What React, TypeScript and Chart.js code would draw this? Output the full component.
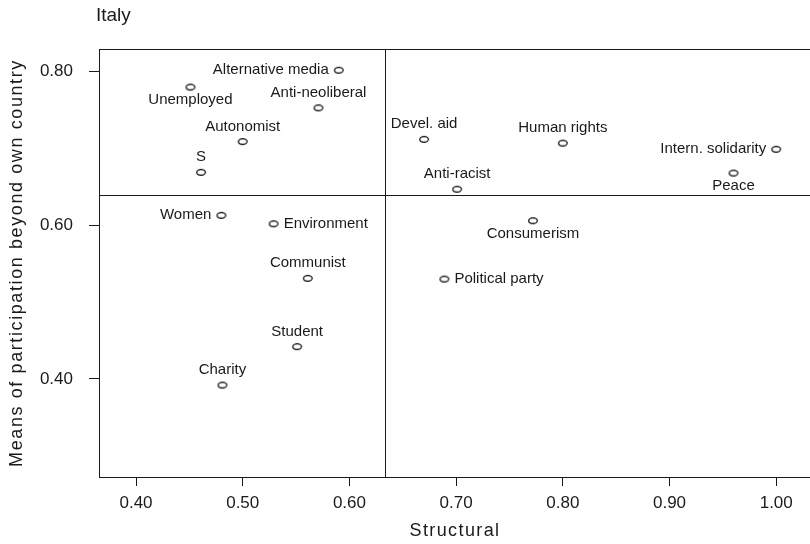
import React, { useEffect, useRef } from "react";
import { Chart, registerables } from "chart.js";

Chart.register(...registerables);

// ---- data ----
const groups = [
  "Alternative media",
  "Unemployed",
  "Anti-neoliberal",
  "Autonomist",
  "S",
  "Devel. aid",
  "Human rights",
  "Intern. solidarity",
  "Peace",
  "Anti-racist",
  "Women",
  "Environment",
  "Consumerism",
  "Communist",
  "Political party",
  "Student",
  "Charity",
];
const structural = [
  0.590, 0.451, 0.571, 0.500, 0.461, 0.670, 0.800, 1.000, 0.960, 0.701,
  0.480, 0.529, 0.772, 0.561, 0.689, 0.551, 0.481,
];
const beyondOwnCountry = [
  0.802, 0.780, 0.753, 0.709, 0.669, 0.712, 0.707, 0.699, 0.668, 0.647,
  0.613, 0.602, 0.606, 0.531, 0.530, 0.442, 0.392,
];
const labelSide = [
  "left", "below", "above", "above", "above", "above", "above", "left", "below", "above",
  "left", "right", "below", "above", "right", "above", "above",
];
const xTickValues = [0.4, 0.5, 0.6, 0.7, 0.8, 0.9, 1.0];
const xTickLabels = ["0.40", "0.50", "0.60", "0.70", "0.80", "0.90", "1.00"];
const yTickValues = [0.4, 0.6, 0.8];
const yTickLabels = ["0.40", "0.60", "0.80"];
const xDivider = 0.633;
const yDivider = 0.639;
const chartTitle = "Italy";
const xAxisTitle = "Structural";
const yAxisTitle = "Means of participation beyond own country";

const FONT = "'Liberation Sans', Arial, Helvetica, sans-serif";
const INK = "#1a1a1a";

function makeEllipse(): HTMLCanvasElement {
  const c = document.createElement("canvas");
  c.width = 12;
  c.height = 9;
  const g = c.getContext("2d")!;
  g.strokeStyle = "#000";
  g.lineWidth = 1.2;
  g.beginPath();
  g.ellipse(6, 4.5, 4.3, 2.8, 0, 0, Math.PI * 2);
  g.stroke();
  return c;
}

// widen axis-title letter spacing like the reference rendering
function spaceTitle(scale: any, spacing: string) {
  if (!scale || scale.__spaced) return;
  const orig = scale.drawTitle;
  scale.drawTitle = function (...args: any[]) {
    const c = this.ctx as any;
    const prev = c.letterSpacing;
    c.letterSpacing = spacing;
    orig.apply(this, args);
    c.letterSpacing = prev || "0px";
  };
  scale.__spaced = true;
}

const annotate = {
  id: "annotate",
  beforeDraw(chart: any) {
    spaceTitle(chart.scales.x, "1.4px");
    spaceTitle(chart.scales.y, "1.6px");
  },
  beforeDatasetsDraw(chart: any) {
    const { ctx, chartArea: a, scales } = chart;
    ctx.save();
    ctx.strokeStyle = INK;
    ctx.lineWidth = 1;
    ctx.strokeRect(Math.round(a.left) + 0.5, Math.round(a.top) + 0.5, a.right - a.left, a.bottom - a.top);
    const xv = Math.round(scales.x.getPixelForValue(xDivider)) + 0.5;
    const yh = Math.round(scales.y.getPixelForValue(yDivider)) + 0.5;
    ctx.beginPath();
    ctx.moveTo(xv, a.top);
    ctx.lineTo(xv, a.bottom);
    ctx.moveTo(a.left, yh);
    ctx.lineTo(a.right, yh);
    ctx.stroke();
    ctx.restore();
  },
  afterDatasetsDraw(chart: any) {
    const { ctx, scales } = chart;
    ctx.save();
    ctx.fillStyle = INK;
    ctx.font = `15px ${FONT}`;
    groups.forEach((name, i) => {
      const px = scales.x.getPixelForValue(structural[i]);
      const py = scales.y.getPixelForValue(beyondOwnCountry[i]);
      const side = labelSide[i];
      ctx.textBaseline = "middle";
      if (side === "above") {
        ctx.textAlign = "center";
        ctx.fillText(name, px, py - 15);
      } else if (side === "below") {
        ctx.textAlign = "center";
        ctx.fillText(name, px, py + 13);
      } else if (side === "left") {
        ctx.textAlign = "right";
        ctx.fillText(name, px - 10, py);
      } else {
        ctx.textAlign = "left";
        ctx.fillText(name, px + 10, py);
      }
    });
    ctx.font = `19px ${FONT}`;
    ctx.textAlign = "left";
    ctx.textBaseline = "alphabetic";
    ctx.fillText(chartTitle, 96, 21);
    ctx.restore();
  },
};

export default function App() {
  const ref = useRef<HTMLCanvasElement | null>(null);
  useEffect(() => {
    if (!ref.current) return;
    const marker = makeEllipse();
    const chart = new Chart(ref.current, {
      type: "scatter",
      data: {
        datasets: [
          {
            data: structural.map((x, i) => ({ x, y: beyondOwnCountry[i] })),
            pointStyle: marker as any,
            pointRadius: 5,
            pointHoverRadius: 5,
          },
        ],
      },
      options: {
        animation: false,
        responsive: false,
        devicePixelRatio: 1,
        events: [],
        layout: { autoPadding: false, padding: { top: 49, right: 1, bottom: 0, left: 0 } },
        plugins: { legend: { display: false }, tooltip: { enabled: false }, title: { display: false } },
        scales: {
          x: {
            type: "linear",
            min: 0.3653,
            max: 1.0326,
            afterBuildTicks: (s: any) => {
              s.ticks = xTickValues.map((v) => ({ value: v }));
            },
            afterFit: (s: any) => {
              s.height = 67;
            },
            ticks: {
              autoSkip: false,
              maxRotation: 0,
              minRotation: 0,
              padding: 7,
              color: INK,
              font: { family: FONT, size: 17 },
              callback: (_v: any, i: number) => xTickLabels[i],
            },
            grid: { drawOnChartArea: false, drawTicks: true, tickLength: 9, color: INK, lineWidth: 1 },
            border: { display: false },
            title: {
              display: true,
              text: xAxisTitle,
              color: INK,
              font: { family: FONT, size: 18 },
              padding: { top: 0, bottom: 2 },
            },
          },
          y: {
            type: "linear",
            min: 0.2723,
            max: 0.8296,
            afterBuildTicks: (s: any) => {
              s.ticks = yTickValues.map((v) => ({ value: v }));
            },
            afterFit: (s: any) => {
              s.width = 99;
            },
            ticks: {
              autoSkip: false,
              padding: 16,
              color: INK,
              font: { family: FONT, size: 17 },
              callback: (_v: any, i: number) => yTickLabels[i],
            },
            grid: { drawOnChartArea: false, drawTicks: true, tickLength: 10, color: INK, lineWidth: 1 },
            border: { display: false },
            title: {
              display: true,
              text: yAxisTitle,
              color: INK,
              font: { family: FONT, size: 18 },
              padding: { top: 6, bottom: 0 },
            },
          },
        },
      },
      plugins: [annotate],
    });
    return () => chart.destroy();
  }, []);

  return (
    <div
      style={{
        position: "fixed",
        left: 0,
        top: 0,
        width: 810,
        height: 544,
        overflow: "hidden",
        background: "#fff",
      }}
    >
      <canvas ref={ref} width={812} height={544} style={{ display: "block" }} />
    </div>
  );
}
